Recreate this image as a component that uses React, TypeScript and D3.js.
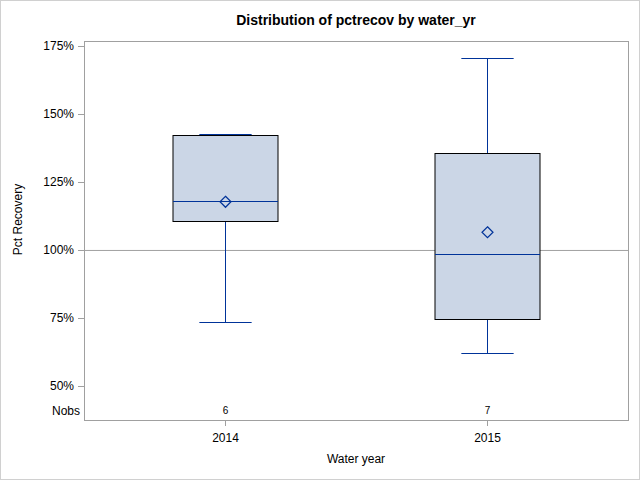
import React, { useEffect } from 'react';
import { scaleLinear, scalePoint } from 'd3';

const categories = ['2014', '2015'];
const minVals = [73.5, 62.0];
const q1Vals = [110.7, 74.6];
const medianVals = [118.0, 98.5];
const q3Vals = [142.3, 135.5];
const maxVals = [142.8, 170.5];
const meanVals = [117.7, 106.5];
const nobs = [6, 7];
const yTicks = [50, 75, 100, 125, 150, 175];

const W = 640;
const H = 480;
const left = 84;
const right = 628;
const top = 41;
const bottom = 420;

const navy = '#003399';
const font = 'Liberation Sans, Arial, sans-serif';

const App: React.FC = () => {
  useEffect(() => {
    document.body.style.margin = '0';
  }, []);

  const y = scaleLinear().domain([37.5, 176.8]).range([bottom, top]);
  const x = scalePoint().domain(categories).range([left, right]).padding(0.54);
  const boxW = x.step() * 0.4;
  const capW = boxW / 2;

  return (
    <svg width={W} height={H} style={{ display: 'block' }}>
      <rect x={0.5} y={0.5} width={W - 1} height={H - 1} fill="white" stroke="#d0d0d0" />
      <text x={(left + right) / 2} y={25} textAnchor="middle" fontFamily={font} fontSize={14} fontWeight="bold">
        Distribution of pctrecov by water_yr
      </text>

      {/* reference line */}
      <line x1={left} x2={right} y1={y(100) + 0.5} y2={y(100) + 0.5} stroke="#a0a0a0" />

      {categories.map((c, i) => {
        const cx = Math.round(x(c)!) + 0.5;
        const yq1 = Math.round(y(q1Vals[i])) + 0.5;
        const yq3 = Math.round(y(q3Vals[i])) + 0.5;
        const ymed = Math.round(y(medianVals[i])) + 0.5;
        const ymin = Math.round(y(minVals[i])) + 0.5;
        const ymax = Math.round(y(maxVals[i])) + 0.5;
        const ym = y(meanVals[i]);
        const d = 5.5;
        return (
          <g key={c}>
            <line x1={cx} x2={cx} y1={ymin} y2={yq1} stroke={navy} />
            <line x1={cx} x2={cx} y1={ymax} y2={yq3} stroke={navy} />
            <line x1={cx - capW / 2} x2={cx + capW / 2} y1={ymin} y2={ymin} stroke={navy} />
            <line x1={cx - capW / 2} x2={cx + capW / 2} y1={ymax} y2={ymax} stroke={navy} />
            <rect
              x={Math.round(cx - boxW / 2)}
              y={yq3}
              width={Math.round(boxW)}
              height={yq1 - yq3}
              fill="#cbd6e6"
              stroke="black"
            />
            <line x1={Math.round(cx - boxW / 2)} x2={Math.round(cx + boxW / 2)} y1={ymed} y2={ymed} stroke={navy} />
            <path
              d={`M${cx},${ym - d}L${cx + d},${ym}L${cx},${ym + d}L${cx - d},${ym}Z`}
              fill="none"
              stroke={navy}
              strokeWidth={1.2}
            />
            <text x={cx} y={bottom - 6} textAnchor="middle" fontFamily={font} fontSize={10}>
              {nobs[i]}
            </text>
            <line x1={cx} x2={cx} y1={bottom} y2={bottom + 6} stroke="#a0a0a0" />
            <text x={cx} y={bottom + 22} textAnchor="middle" fontFamily={font} fontSize={12}>
              {c}
            </text>
          </g>
        );
      })}

      {/* frame */}
      <rect x={left + 0.5} y={top + 0.5} width={right - left} height={bottom - top} fill="none" stroke="#a0a0a0" />

      {yTicks.map(t => (
        <g key={t}>
          <line x1={left - 6} x2={left} y1={Math.round(y(t)) + 0.5} y2={Math.round(y(t)) + 0.5} stroke="#a0a0a0" />
          <text x={left - 10} y={y(t) + 4} textAnchor="end" fontFamily={font} fontSize={12}>
            {t}%
          </text>
        </g>
      ))}
      <text x={left - 4} y={bottom - 5} textAnchor="end" fontFamily={font} fontSize={12}>
        Nobs
      </text>

      <text
        transform={`translate(22, ${(top + bottom) / 2 - 11}) rotate(-90)`}
        textAnchor="middle"
        fontFamily={font}
        fontSize={12}
      >
        Pct Recovery
      </text>
      <text x={(left + right) / 2} y={463} textAnchor="middle" fontFamily={font} fontSize={12}>
        Water year
      </text>
    </svg>
  );
};

export default App;
